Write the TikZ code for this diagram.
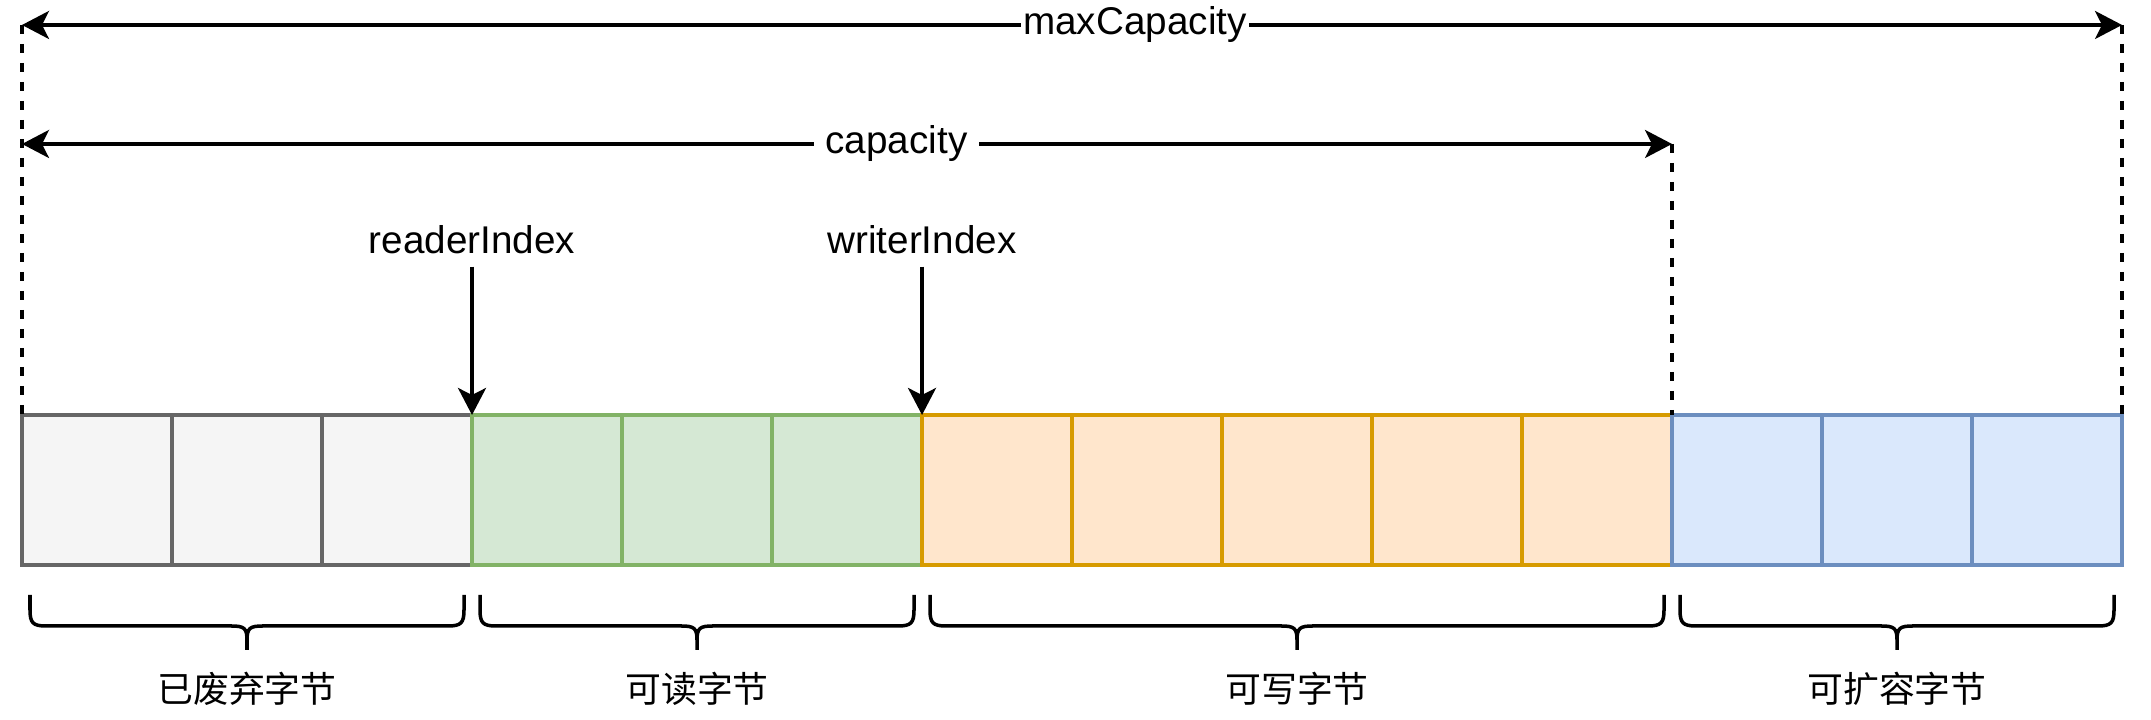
\documentclass[tikz,border=0pt]{standalone}
\usepackage{fontspec}
\setmainfont{Liberation Sans}
\newfontfamily\cjk{Noto Sans CJK SC}
\usepackage{tikz}
\usetikzlibrary{arrows.meta, positioning, calc}
\usepackage{xcolor}
\definecolor{usedfill}{HTML}{F5F5F5}\definecolor{usedline}{HTML}{666666}
\definecolor{readfill}{HTML}{D5E8D4}\definecolor{readline}{HTML}{82B366}
\definecolor{writefill}{HTML}{FFE6CC}\definecolor{writeline}{HTML}{D79B00}
\definecolor{growfill}{HTML}{DAE8FC}\definecolor{growline}{HTML}{6C8EBF}

\newcommand{\bytebrace}[4]{%
  \pgfmathsetmacro{\bmid}{(#2+#3)/2}
  \draw[bracket] (#2,1.25) -- (#2,1.10) .. controls (#2,0.97) and ({#2+0.03},0.94) .. ({#2+0.16},0.94)
    -- ({\bmid-0.16},0.94) .. controls ({\bmid-0.03},0.94) and (\bmid,0.92) .. (\bmid,0.80) -- (\bmid,0.70)
    (\bmid,0.80) .. controls (\bmid,0.92) and ({\bmid+0.03},0.94) .. ({\bmid+0.16},0.94)
    -- ({#3-0.16},0.94) .. controls ({#3-0.03},0.94) and (#3,0.97) .. (#3,1.10) -- (#3,1.25);
  \node[part] (#1) at (\bmid,0.31) {#4};
}

\begin{document}
\begin{tikzpicture}[every node/.style={font=\fontsize{11}{13}\selectfont},
  >={Stealth[length=0.27cm, width=0.28cm, inset=0.07cm]},
  cell/.style={draw, line width=1.1pt, minimum size=1.5cm, inner sep=0pt, outer sep=0pt, anchor=south west},
  dim/.style={<->, line width=1pt},
  guide/.style={line width=1pt, dash pattern=on 0.09cm off 0.1cm},
  bracket/.style={line width=1pt},
  part/.style={font=\cjk\fontsize{10.2}{12}\selectfont}]
\useasboundingbox (0,0) rectangle (21.51,7.2);

\foreach \i/\kind in {0/used,1/used,2/used,3/read,4/read,5/read,6/write,7/write,8/write,9/write,10/write,11/grow,12/grow,13/grow}
  \node[cell, fill=\kind fill, draw=\kind line] (c\i) at ({0.22+1.5*\i},1.55) {};

\coordinate (maxL) at (0.22,6.95);
\coordinate (maxR) at (21.22,6.95);
\coordinate (capL) at (0.22,5.76);
\coordinate (capR) at (16.72,5.76);
\draw[guide] (maxL) -- (c0.north west);
\draw[guide] (maxR) -- (c13.north east);
\draw[guide] (capR) -- (c11.north west);
\draw[dim] (maxL) -- (maxR) node[pos=0.53, fill=white, inner sep=0.02cm] (maxcap) {maxCapacity};
\draw[dim] (capL) -- (capR) node[pos=0.53, fill=white, inner sep=0.12cm] (cap) {capacity};

\node (reader) at (4.72,4.8) {readerIndex};
\node (writer) at (9.22,4.8) {writerIndex};
\draw[->, line width=1pt] (reader) -- (c3.north west);
\draw[->, line width=1pt] (writer) -- (c6.north west);

\bytebrace{used}{0.30}{4.64}{已废弃字节}
\bytebrace{read}{4.80}{9.14}{可读字节}
\bytebrace{write}{9.30}{16.64}{可写字节}
\bytebrace{grow}{16.80}{21.14}{可扩容字节}
\end{tikzpicture}
\end{document}
